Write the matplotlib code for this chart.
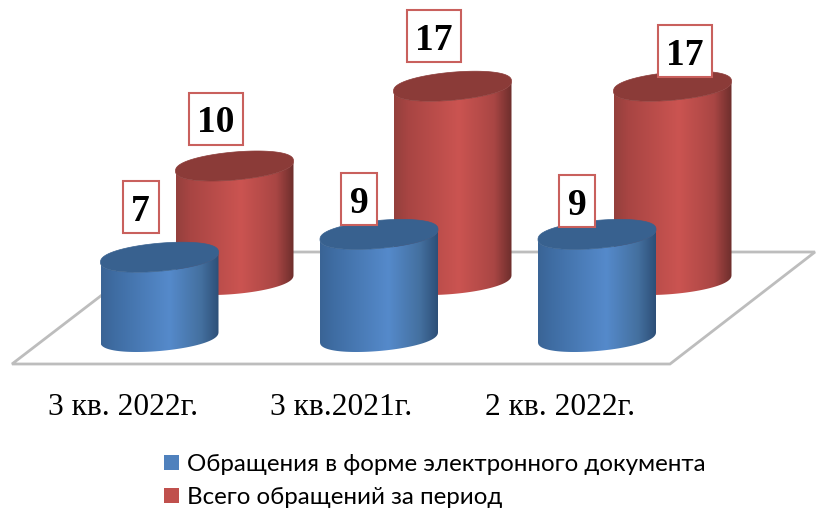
import numpy as np
import matplotlib
matplotlib.use("Agg")
import matplotlib.pyplot as plt
from matplotlib.colors import LinearSegmentedColormap
from matplotlib.patches import Polygon, Rectangle

categories = ["3 кв. 2022г.", "3 кв.2021г.", "2 кв. 2022г."]
electronic = [7, 9, 9]
total = [10, 17, 17]
series_names = ["Обращения в форме электронного документа", "Всего обращений за период"]

# layout, in pixels of the 816x508 figure
PX_PER_UNIT = 11.4
A, B, SKEW = 59, 14, 5
blue_cx = [159.5, 379, 597]
red_cx = [234.5, 452.5, 672.5]
BLUE_BASE, RED_BASE = 337, 280
blue_label_off = [(-19, -50), (-20, -35), (-20, -33)]
red_label_off = [(-18.5, -47), (-18.5, -50), (12.5, -35)]
cat_x = [123, 341, 560]

fig = plt.figure(figsize=(8.16, 5.08), dpi=100)
ax = fig.add_axes([0, 0, 1, 1])
ax.set_xlim(0, 816)
ax.set_ylim(508, 0)
ax.axis("off")

floor = Polygon([(12, 364), (670, 364), (815, 252), (158, 252)], closed=True,
                fc="white", ec="#bdbdbd", lw=2.0, zorder=1)
ax.add_patch(floor)

blue_cmap = LinearSegmentedColormap.from_list("b", [(0, "#3a6495"), (0.12, "#3f6da3"), (0.58, "#558acb"),
                                                    (0.85, "#44709f"), (1, "#2d4f78")])
red_cmap = LinearSegmentedColormap.from_list("r", [(0, "#94403d"), (0.12, "#a84543"), (0.55, "#cb5451"),
                                                   (0.85, "#a94644"), (1, "#6d2e2c")])


def ell(cx, cy, t):
    c, s = np.cos(t), np.sin(t)
    rs = np.sign(s) * np.abs(s) ** 0.85
    return np.column_stack([cx + A * c, cy + B * rs - SKEW * c])


def cylinder(cx, base, value, cmap, top_color, z):
    top = base - value * PX_PER_UNIT
    t_front = np.linspace(0, np.pi, 80)
    t_all = np.linspace(0, 2 * np.pi, 160)
    body_pts = np.vstack([ell(cx, top, t_front)[::-1], ell(cx, base, t_front)])
    body = Polygon(body_pts, closed=True, fc="none", ec="none", zorder=z)
    ax.add_patch(body)
    grad = np.linspace(0, 1, 256).reshape(1, -1)
    im = ax.imshow(grad, cmap=cmap, extent=(cx - A, cx + A, base + 30, top - 30),
                   aspect="auto", zorder=z, interpolation="bilinear")
    im.set_clip_path(body)
    ax.add_patch(Polygon(ell(cx, top, t_all), closed=True, fc=top_color, ec=top_color, lw=0.5, zorder=z + 0.1))
    return top


def value_box(x, y, text):
    w = 54 if len(text) > 1 else 36
    h = 52
    ax.add_patch(Rectangle((x - w / 2, y - h / 2), w, h, fc="white", ec="#c9605d", lw=1.5, zorder=20))
    ax.text(x, y, text, ha="center", va="center_baseline", fontsize=27, fontweight="bold",
            family="Liberation Serif", color="black", zorder=21)


for i in range(3):
    cylinder(red_cx[i], RED_BASE, total[i], red_cmap, "#8b3b38", 3 + i * 0.2)
for i in range(3):
    cylinder(blue_cx[i], BLUE_BASE, electronic[i], blue_cmap, "#38618f", 6 + i * 0.2)

for i in range(3):
    top = BLUE_BASE - electronic[i] * PX_PER_UNIT
    value_box(blue_cx[i] + blue_label_off[i][0], top + blue_label_off[i][1], str(electronic[i]))
    top = RED_BASE - total[i] * PX_PER_UNIT
    value_box(red_cx[i] + red_label_off[i][0], top + red_label_off[i][1], str(total[i]))

for x, c in zip(cat_x, categories):
    ax.text(x, 415, c, ha="center", va="baseline", fontsize=22.7, family="Liberation Serif", color="black")

handles = [Rectangle((0, 0), 1, 1, fc="#4f81bd"), Rectangle((0, 0), 1, 1, fc="#c0504d")]
ax.legend(handles, series_names, loc="upper left", bbox_to_anchor=(164, 454), bbox_transform=ax.transData,
          frameon=False, handlelength=0.63, handleheight=0.63, handletextpad=0.34, labelspacing=0.5,
          borderpad=0, borderaxespad=0, prop={"family": ["Lato", "Open Sans"], "size": 17.4})

fig.savefig("out.png", dpi=100)
